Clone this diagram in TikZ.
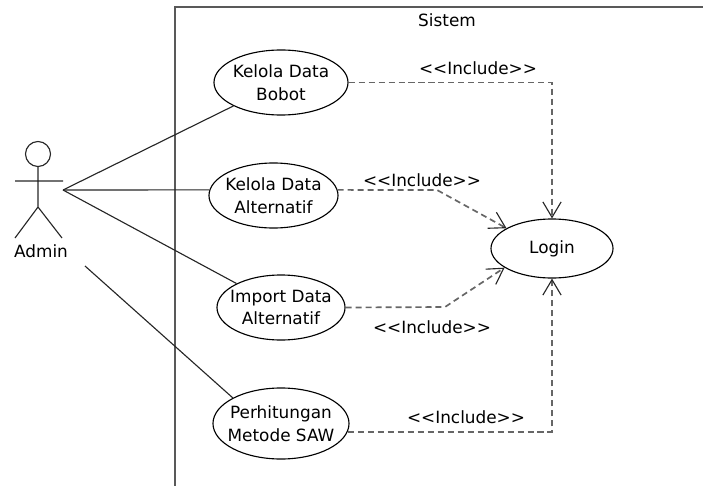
\documentclass[tikz,border=0pt]{standalone}
\usepackage{fontspec}
\setmainfont{DejaVu Sans}
\usepackage{tikz}
\usetikzlibrary{shapes.geometric, arrows.meta, positioning}
\usepackage{tkz-euclide}
\newcommand\incl{<\kern0pt<Include>\kern0pt>}

\begin{document}
\begin{tikzpicture}[x=0.025cm, y=-0.025cm, font=\fontsize{12}{16}\selectfont,
  usecase/.style={draw, ellipse, line width=0.8pt, inner xsep=-6pt, inner ysep=0pt, align=center},
  assoc/.style={line width=0.8pt, black!85},
  boundary/.style={line width=1.4pt, black!65},
  depend/.style={line width=1.2pt, black!60, dash pattern=on 4.3pt off 2.8pt,
    -{Straight Barb[length=11pt, width=13pt, black!85, line width=0.8pt]}}]
\useasboundingbox (0,0) rectangle (703,486);
  \tkzDefPoints{175/486/S1, 175/7/S2, 703/7/S3, 63/190/P, 85/266/Q, 437/190/K1, 445/307/K2}
\draw[boundary] (S1) -- (S2) -- (S3);
  \node at (447,20) {Sistem};
% actor
\draw[assoc] (38,154) circle [radius=12.5];
\draw[assoc] (38,166.5) -- (38,207) (15,181) -- (63,181) (15,238) -- (38,207) -- (62,238);
  \node (admin) at (41,251) {Admin};
% use cases
\node[usecase, minimum width=3.35cm, minimum height=1.625cm] (bob) at (281,82.5) {Kelola Data\\Bobot};
\node[usecase, minimum width=3.225cm, minimum height=1.625cm] (alt) at (273.5,195.5) {Kelola Data\\Alternatif};
\node[usecase, minimum width=3.2cm, minimum height=1.625cm] (imp) at (281,307.5) {Import Data\\Alternatif};
\node[usecase, minimum width=3.4cm, minimum height=1.775cm] (saw) at (281,423.5) {Perhitungan\\Metode SAW};
\node[usecase, minimum width=3.05cm, minimum height=1.475cm] (login) at (552,248.5) {Login};
\draw[assoc] (P) -- (bob);
\draw[assoc] (P) -- (alt.175);
\draw[assoc] (P) -- (imp);
\draw[assoc] (Q) -- (saw.152);
% include
\draw[depend] (bob.east) -| (login.north);
\draw[depend] (alt.5) -- (K1) -- (login.156);
\draw[depend] (imp.east) -- (K2) -- (login.202);
\draw[depend] (saw.-7) -| (login.south);
  \node at (478,68) {\incl};
  \node at (422,180) {\incl};
  \node at (432,327) {\incl};
  \node at (466,417) {\incl};
\end{tikzpicture}
\end{document}
